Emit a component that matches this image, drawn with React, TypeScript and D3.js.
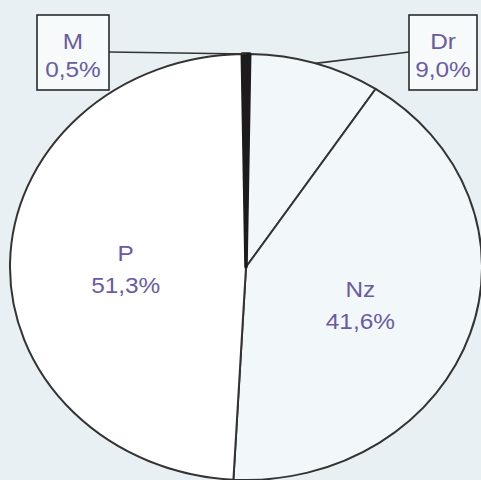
import * as d3 from 'd3'

// slice order runs clockwise from 12 o'clock
const names = ['M', 'Dr', 'Nz', 'P']
// slice sizes (the printed P label says 51,3%)
const shares = [0.5, 9.0, 41.6, 48.9]
const pctText = ['0,5%', '9,0%', '41,6%', '51,3%']
const fills = ['#1c1c1c', '#f2f8fa', '#f2f8fa', '#ffffff']

const W = 481, H = 480
const CX = 246, CY = 267, R = 213
const SX = 1.108 // the scan is stretched sideways
const FONT = '"Liberation Sans", Arial, sans-serif'
const TXT = '#6a5ba3'

// callout boxes for the thin slices
const boxes: Record<string, { x: number; y: number; w: number; h: number }> = {
  M: { x: 37, y: 15, w: 72, h: 75 },
  Dr: { x: 409, y: 15, w: 68, h: 75 },
}

export default function App() {
  const off = (shares[0] / 100) * Math.PI
  const pie = d3.pie<number>().sort(null).value((d) => d)
    .startAngle(-off).endAngle(2 * Math.PI - off)
  const arcs = pie(shares)
  const arc = d3.arc<d3.PieArcDatum<number>>().innerRadius(0).outerRadius(R)

  const toImg = (a: number, r: number): [number, number] =>
    [CX + SX * r * Math.sin(a), CY - r * Math.cos(a)]

  return (
    <svg width={W} height={H} style={{ position: 'absolute', left: 0, top: 0 }}>
      <rect width={W} height={H} fill="#e8f0f3" />
      <g transform={`translate(${CX},${CY}) scale(${SX},1)`}>
        {arcs.map((a, i) => (
          <path key={i} d={arc(a) ?? ''} fill={fills[i]} stroke="#333"
            strokeWidth={2} vectorEffect="non-scaling-stroke" strokeLinejoin="round" />
        ))}
        {/* the black sliver is drawn a little heavier, as in the print */}
        <path d={arc(arcs[0]) ?? ''} fill={fills[0]} stroke={fills[0]}
          strokeWidth={3.5} vectorEffect="non-scaling-stroke" strokeLinejoin="round" />
      </g>

      {arcs.map((a, i) => {
        const mid = (a.startAngle + a.endAngle) / 2
        const box = boxes[names[i]]
        if (box) {
          const [px, py] = toImg(mid, R)
          const bx = px < box.x ? box.x : box.x + box.w
          const by = box.y + 37
          const tx = box.x + box.w / 2
          return (
            <g key={i}>
              <line x1={bx} y1={by} x2={px} y2={py} stroke="#333" strokeWidth={1.6} />
              <rect x={box.x} y={box.y} width={box.w} height={box.h} fill="#f6fafb" stroke="#2a2a2a" strokeWidth={1.6} />
              <g transform={`translate(${tx},0) scale(${SX},1)`} fontFamily={FONT} fontSize={22} fill={TXT} textAnchor="middle">
                <text y={box.y + 34}>{names[i]}</text>
                <text y={box.y + 62}>{pctText[i]}</text>
              </g>
            </g>
          )
        }
        const [lx, ly] = toImg(mid, R * 0.51)
        return (
          <g key={i} transform={`translate(${lx},${ly}) scale(${SX},1)`} fontFamily={FONT} fontSize={22} fill={TXT} textAnchor="middle">
            <text y={-4}>{names[i]}</text>
            <text y={28}>{pctText[i]}</text>
          </g>
        )
      })}
    </svg>
  )
}
